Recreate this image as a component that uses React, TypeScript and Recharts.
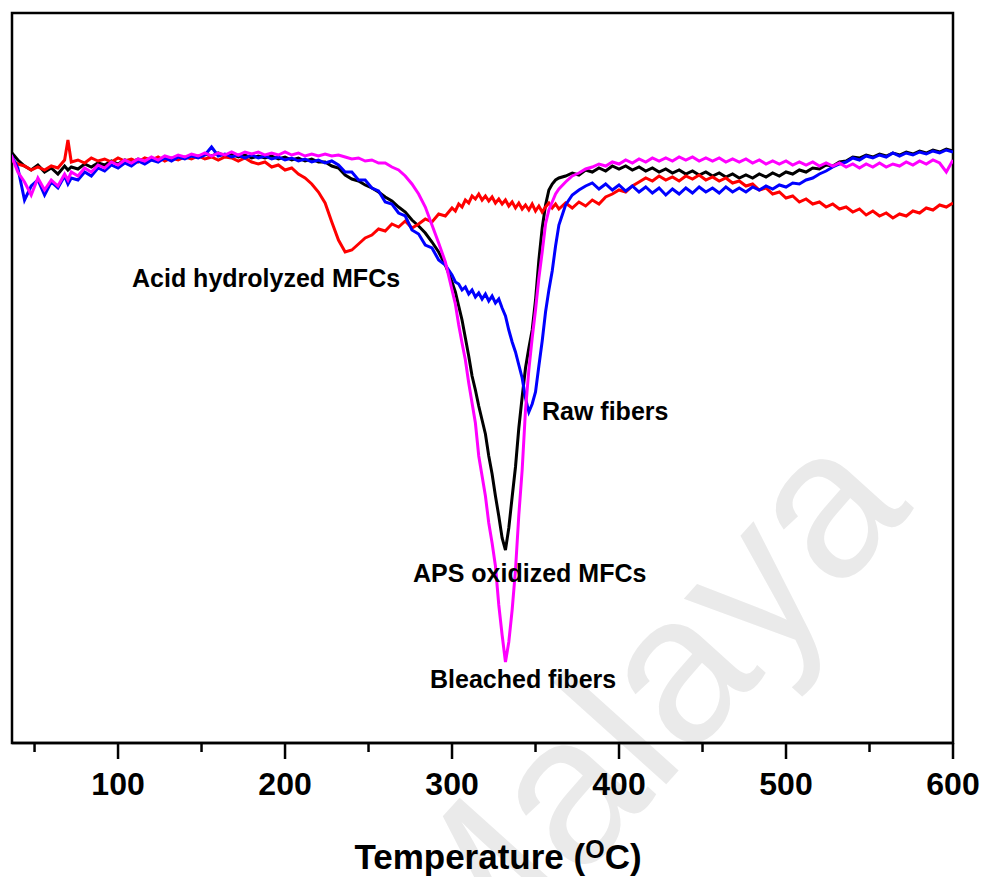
import React from "react";
import { LineChart, Line, XAxis, YAxis, ReferenceArea } from "recharts";

// DTG curves, derivative weight loss (%/°C)
const temps = [
  36, 40, 44, 48, 52, 56, 60, 64, 68, 70,
  72, 76, 80, 84, 88, 92, 96, 100, 104, 108,
  112, 116, 120, 124, 128, 132, 136, 140, 144, 148,
  152, 156, 160, 164, 168, 172, 176, 180, 184, 188,
  192, 196, 200, 204, 208, 212, 216, 220, 224, 228,
  232, 236, 240, 244, 248, 252, 256, 260, 264, 268,
  272, 276, 280, 284, 288, 292, 296,
  300, 302, 304, 306, 308, 310, 312, 314, 316, 318,
  320, 322, 324, 326, 328, 330, 332, 334, 336, 338,
  340, 342, 344, 346, 348, 350, 352, 354, 356, 358,
  360, 362, 364,
  368, 372, 376, 380, 384, 388, 392, 396, 400, 404,
  408, 412, 416, 420, 424, 428, 432, 436, 440, 444,
  448, 452, 456, 460, 464, 468, 472, 476, 480, 484,
  488, 492, 496, 500, 504, 508, 512, 516, 520, 524,
  528, 532, 536, 540, 544, 548, 552, 556, 560, 564,
  568, 572, 576, 580, 584, 588, 592, 596, 600,
];

const acidHydrolyzed = [
  -0.010, -0.018, -0.022, -0.030, -0.024, -0.030, -0.022, -0.026, -0.010, 0.030,
  -0.014, -0.010, -0.016, -0.006, -0.012, -0.008, -0.014, -0.006, -0.012, -0.008,
  -0.014, -0.006, -0.010, -0.004, -0.012, -0.006, -0.010, -0.004, -0.008, -0.002,
  -0.008, -0.004, -0.010, -0.004, -0.006, -0.012, -0.006, -0.014, -0.018, -0.014,
  -0.024, -0.020, -0.030, -0.026, -0.038, -0.046, -0.058, -0.074, -0.096, -0.134,
  -0.170, -0.194, -0.190, -0.178, -0.166, -0.160, -0.148, -0.152, -0.138, -0.144,
  -0.132, -0.146, -0.138, -0.128, -0.134, -0.118, -0.122,
  -0.106, -0.112, -0.098, -0.104, -0.090, -0.096, -0.082, -0.088, -0.078, -0.090,
  -0.082, -0.092, -0.084, -0.096, -0.088, -0.098, -0.090, -0.102, -0.094, -0.106,
  -0.096, -0.108, -0.100, -0.110, -0.098, -0.112, -0.102, -0.114, -0.104, -0.096,
  -0.106, -0.098, -0.108,
  -0.096, -0.106, -0.094, -0.102, -0.090, -0.098, -0.084, -0.078, -0.070, -0.074,
  -0.062, -0.054, -0.046, -0.052, -0.042, -0.050, -0.044, -0.052, -0.042, -0.048,
  -0.040, -0.050, -0.044, -0.052, -0.046, -0.056, -0.052, -0.062, -0.058, -0.070,
  -0.066, -0.078, -0.074, -0.086, -0.082, -0.094, -0.088, -0.098, -0.094, -0.104,
  -0.098, -0.108, -0.104, -0.114, -0.108, -0.120, -0.112, -0.122, -0.116, -0.126,
  -0.118, -0.122, -0.112, -0.116, -0.106, -0.110, -0.100, -0.104, -0.096,
];

const rawFibers = [
  0.000, -0.026, -0.090, -0.062, -0.050, -0.080, -0.054, -0.066, -0.042, -0.058,
  -0.046, -0.050, -0.034, -0.042, -0.026, -0.032, -0.020, -0.026, -0.016, -0.022,
  -0.012, -0.018, -0.010, -0.014, -0.006, -0.012, -0.004, -0.008, -0.002, -0.006,
  0.000, 0.016, -0.002, 0.002, -0.004, 0.000, -0.006, 0.000, -0.006, -0.002,
  -0.008, -0.004, -0.010, -0.006, -0.012, -0.008, -0.014, -0.010, -0.016, -0.012,
  -0.020, -0.034, -0.034, -0.050, -0.050, -0.066, -0.072, -0.094, -0.098, -0.116,
  -0.122, -0.150, -0.158, -0.180, -0.186, -0.210, -0.220,
  -0.240, -0.254, -0.258, -0.270, -0.264, -0.278, -0.270, -0.284, -0.276, -0.288,
  -0.278, -0.292, -0.282, -0.296, -0.288, -0.306, -0.322, -0.350, -0.374, -0.394,
  -0.420, -0.446, -0.486, -0.514, -0.498, -0.474, -0.422, -0.372, -0.314, -0.270,
  -0.232, -0.182, -0.140,
  -0.100, -0.080, -0.070, -0.062, -0.056, -0.068, -0.058, -0.070, -0.060, -0.072,
  -0.062, -0.074, -0.064, -0.076, -0.066, -0.080, -0.068, -0.078, -0.066, -0.076,
  -0.064, -0.074, -0.066, -0.076, -0.064, -0.074, -0.066, -0.074, -0.064, -0.070,
  -0.062, -0.068, -0.060, -0.064, -0.056, -0.058, -0.050, -0.046, -0.038, -0.032,
  -0.024, -0.018, -0.014, -0.006, -0.010, -0.002, -0.006, 0.000, -0.004, 0.004,
  -0.002, 0.004, 0.000, 0.006, 0.002, 0.008, 0.004, 0.010, 0.006,
];

const apsOxidized = [
  0.006, -0.010, -0.022, -0.030, -0.020, -0.034, -0.026, -0.038, -0.022, -0.030,
  -0.024, -0.028, -0.018, -0.024, -0.016, -0.020, -0.012, -0.018, -0.010, -0.014,
  -0.008, -0.012, -0.006, -0.010, -0.004, -0.008, -0.002, -0.006, 0.000, -0.004,
  0.002, -0.002, 0.004, -0.002, 0.002, -0.004, 0.000, -0.006, -0.002, -0.006,
  -0.002, -0.008, -0.004, -0.010, -0.006, -0.012, -0.008, -0.014, -0.014, -0.022,
  -0.026, -0.040, -0.048, -0.052, -0.060, -0.066, -0.074, -0.084, -0.092, -0.104,
  -0.114, -0.130, -0.142, -0.156, -0.174, -0.194, -0.220,
  -0.254, -0.274, -0.302, -0.330, -0.366, -0.402, -0.442, -0.470, -0.502, -0.530,
  -0.558, -0.602, -0.638, -0.682, -0.722, -0.766, -0.790, -0.746, -0.684, -0.624,
  -0.546, -0.484, -0.426, -0.386, -0.350, -0.290, -0.210, -0.146, -0.100, -0.070,
  -0.058, -0.050, -0.046,
  -0.042, -0.036, -0.040, -0.030, -0.034, -0.026, -0.032, -0.022, -0.028, -0.022,
  -0.030, -0.024, -0.032, -0.026, -0.034, -0.028, -0.036, -0.030, -0.038, -0.032,
  -0.040, -0.034, -0.042, -0.036, -0.044, -0.038, -0.046, -0.040, -0.046, -0.038,
  -0.044, -0.036, -0.042, -0.034, -0.038, -0.030, -0.034, -0.026, -0.028, -0.020,
  -0.022, -0.014, -0.012, -0.004, -0.006, 0.000, -0.004, 0.002, -0.002, 0.004,
  0.000, 0.006, 0.002, 0.008, 0.004, 0.010, 0.006, 0.012, 0.008,
];

const bleachedFibers = [
  0.000, -0.034, -0.054, -0.080, -0.046, -0.070, -0.050, -0.062, -0.038, -0.050,
  -0.034, -0.042, -0.026, -0.034, -0.020, -0.026, -0.014, -0.020, -0.010, -0.016,
  -0.008, -0.012, -0.004, -0.010, -0.002, -0.006, 0.000, -0.004, 0.002, -0.002,
  0.004, -0.002, 0.004, 0.000, 0.006, 0.000, 0.006, 0.002, 0.006, 0.000,
  0.004, 0.000, 0.006, 0.000, 0.004, -0.002, 0.002, -0.002, 0.002, -0.002,
  0.000, -0.004, -0.008, -0.006, -0.012, -0.010, -0.016, -0.016, -0.024, -0.030,
  -0.042, -0.058, -0.078, -0.104, -0.140, -0.176, -0.214,
  -0.270, -0.298, -0.340, -0.376, -0.410, -0.456, -0.496, -0.536, -0.602, -0.642,
  -0.682, -0.736, -0.776, -0.822, -0.900, -0.960, -1.014, -0.974, -0.910, -0.830,
  -0.720, -0.630, -0.510, -0.430, -0.366, -0.310, -0.246, -0.194, -0.138, -0.110,
  -0.094, -0.078, -0.068,
  -0.054, -0.042, -0.036, -0.028, -0.024, -0.018, -0.022, -0.014, -0.018, -0.010,
  -0.016, -0.008, -0.014, -0.006, -0.012, -0.006, -0.012, -0.004, -0.010, -0.004,
  -0.012, -0.006, -0.012, -0.006, -0.014, -0.008, -0.014, -0.008, -0.016, -0.010,
  -0.018, -0.012, -0.018, -0.012, -0.020, -0.014, -0.020, -0.014, -0.022, -0.016,
  -0.022, -0.016, -0.024, -0.018, -0.026, -0.018, -0.024, -0.016, -0.024, -0.018,
  -0.022, -0.014, -0.020, -0.012, -0.018, -0.010, -0.016, -0.034, -0.010,
];

const xTicks = [50, 100, 150, 200, 250, 300, 350, 400, 450, 500, 550, 600];
const xDomain = [36.5, 600];
const yDomain = [-1.176, 0.284];

const FONT = '"Liberation Sans", Arial, sans-serif';

const data = temps.map((t, i) => ({
  t,
  acid: acidHydrolyzed[i],
  raw: rawFibers[i],
  aps: apsOxidized[i],
  bleached: bleachedFibers[i],
}));

const TempTick = (props: any) => {
  const { x, y, payload } = props;
  const major = payload.value % 100 === 0;
  return (
    <g>
      <line x1={x} x2={x} y1={y} y2={y + (major ? 16 : 9)} stroke="#000" strokeWidth={2.5} />
      {major && (
        <text x={x} y={y + 52} textAnchor="middle" fontSize={32} fontWeight="bold" fontFamily={FONT} fill="#000">
          {payload.value}
        </text>
      )}
    </g>
  );
};

export default function App() {
  return (
    <div style={{ position: "absolute", left: 0, top: 0, width: 990, height: 877, background: "#fff", fontFamily: FONT }}>
      {/* faint watermark behind the plot */}
      <svg width={990} height={877} style={{ position: "absolute", left: 0, top: 0 }}>
        <text
          x={688}
          y={760}
          textAnchor="middle"
          fontSize={210}
          fontFamily={FONT}
          fill="#eaeaea"
          transform="rotate(-48 688 760)"
        >
          Malaya
        </text>
      </svg>
      <div style={{ position: "absolute", left: 0, top: 0 }}>
        <LineChart width={990} height={877} data={data} margin={{ top: 13, right: 37, bottom: 0, left: 12 }}>
          <XAxis
            type="number"
            dataKey="t"
            domain={xDomain}
            allowDataOverflow
            ticks={xTicks}
            interval={0}
            height={134}
            axisLine={{ stroke: "#000", strokeWidth: 2.5 }}
            tickLine={false}
            tickSize={0}
            tickMargin={0}
            tick={TempTick}
          />
          <YAxis type="number" domain={yDomain} allowDataOverflow hide />
          <Line type="linear" dataKey="aps" stroke="#000000" strokeWidth={3} dot={false} isAnimationActive={false} />
          <Line type="linear" dataKey="acid" stroke="#ff0000" strokeWidth={3} dot={false} isAnimationActive={false} />
          <Line type="linear" dataKey="raw" stroke="#0000ff" strokeWidth={3} dot={false} isAnimationActive={false} />
          <Line type="linear" dataKey="bleached" stroke="#ff00ff" strokeWidth={3} dot={false} isAnimationActive={false} />
          <ReferenceArea
            x1={xDomain[0]}
            x2={xDomain[1]}
            y1={yDomain[0]}
            y2={yDomain[1]}
            fill="none"
            fillOpacity={0}
            stroke="#000"
            strokeWidth={2.5}
            ifOverflow="visible"
          />
        </LineChart>
      </div>
      <svg width={990} height={877} style={{ position: "absolute", left: 0, top: 0, pointerEvents: "none" }}>
        <g fontFamily={FONT} fontWeight="bold" fontSize={25} fill="#000">
          <text x={132} y={287}>Acid hydrolyzed MFCs</text>
          <text x={542} y={420}>Raw fibers</text>
          <text x={413} y={582}>APS oxidized MFCs</text>
          <text x={430} y={688}>Bleached fibers</text>
        </g>
        <text x={498} y={869} textAnchor="middle" fontFamily={FONT} fontWeight="bold" fontSize={35} fill="#000">
          Temperature (
          <tspan fontSize={25} dy={-11}>O</tspan>
          <tspan dy={11}>C)</tspan>
        </text>
      </svg>
    </div>
  );
}
